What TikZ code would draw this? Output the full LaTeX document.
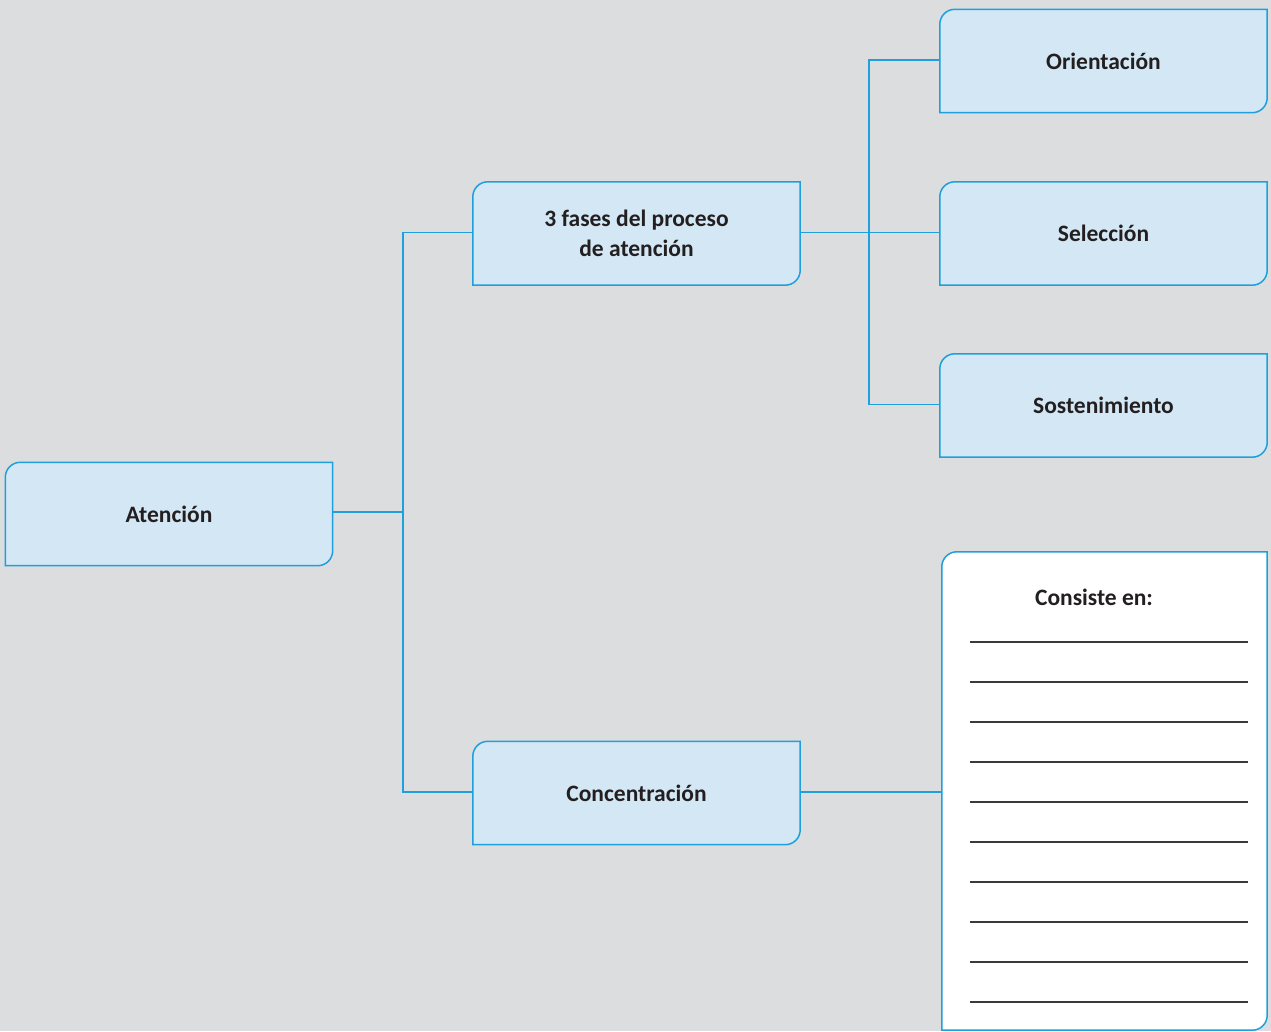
\documentclass[tikz,border=0pt]{standalone}
\usepackage{fontspec}
\setmainfont{Carlito}
\definecolor{bg}{HTML}{DCDDDE}
\definecolor{boxfill}{HTML}{D3E7F5}
\definecolor{boxline}{HTML}{1F9FDB}
\definecolor{ink}{HTML}{231F20}
\definecolor{rule}{HTML}{3A3A3A}
\pgfdeclarelayer{background}
\pgfsetlayers{background,main}
\tikzset{
  x=1pt, y=-1pt,
  mapnode/.style={minimum width=327pt, minimum height=103pt, inner sep=0pt,
    align=center, text=ink, font=\fontsize{23.5}{30}\selectfont\bfseries},
  edgeline/.style={draw=boxline, line width=1.3pt},
  frame/.style={draw=boxline, line width=1.5pt},
}
% box outline: rounded top-left and bottom-right corners only
\newcommand{\leafframe}[2]{%
  \filldraw[frame, fill=#2]
    ([yshift=-15pt]#1.north west) arc[start angle=180, end angle=90, radius=15pt]
    -- (#1.north east) -- ([yshift=15pt]#1.south east)
    arc[start angle=0, end angle=-90, radius=15pt]
    -- (#1.south west) -- cycle;}
\begin{document}
\begin{tikzpicture}
\begin{pgfonlayer}{background}
\fill[bg] (0,0) rectangle (1271,1031);
\end{pgfonlayer}
\useasboundingbox (0,0) rectangle (1271,1031);

% nodes
\node[mapnode] (atn)   at (169,514)     {Atención};
\node[mapnode] (fases) at (636.5,233.5) {3 fases del proceso\\de atención};
\node[mapnode] (conc)  at (636.5,793)   {Concentración};
\node[mapnode] (ori)   at (1103.5,61)   {Orientación};
\node[mapnode] (sel)   at (1103.5,233.5) {Selección};
\node[mapnode] (sos)   at (1103.5,405.5) {Sostenimiento};
\node[minimum width=325pt, minimum height=478pt, inner sep=0pt] (cbox) at (1104.5,791) {};
\node[text=ink, font=\fontsize{23.5}{30}\selectfont\bfseries] (cons) at (1094,597) {Consiste en:};

% frames behind the labels
\begin{pgfonlayer}{background}
\leafframe{atn}{boxfill}
\leafframe{fases}{boxfill}
\leafframe{conc}{boxfill}
\leafframe{ori}{boxfill}
\leafframe{sel}{boxfill}
\leafframe{sos}{boxfill}
\leafframe{cbox}{white}
\end{pgfonlayer}

% writing lines
\foreach \k in {0,...,9}
  \draw[rule, line width=1.8pt] (970,642+40*\k) -- (1248,642+40*\k);

% connectors
\coordinate (j1) at (403,512);
\coordinate (j2) at (869,232.5);
\draw[edgeline] (atn.east |- j1) -- (j1);
\draw[edgeline] (j1) |- (fases.west |- j2);
\draw[edgeline] (j1) |- ([yshift=1pt]conc.west);
\draw[edgeline] (fases.east |- j2) -- (sel.west |- j2);
\draw[edgeline] (j2) |- ([yshift=1pt]ori.west);
\draw[edgeline] (j2) |- ([yshift=1pt]sos.west);
\draw[edgeline] ([yshift=1pt]conc.east) -- ([yshift=1pt]conc.east -| cbox.west);
\end{tikzpicture}
\end{document}
